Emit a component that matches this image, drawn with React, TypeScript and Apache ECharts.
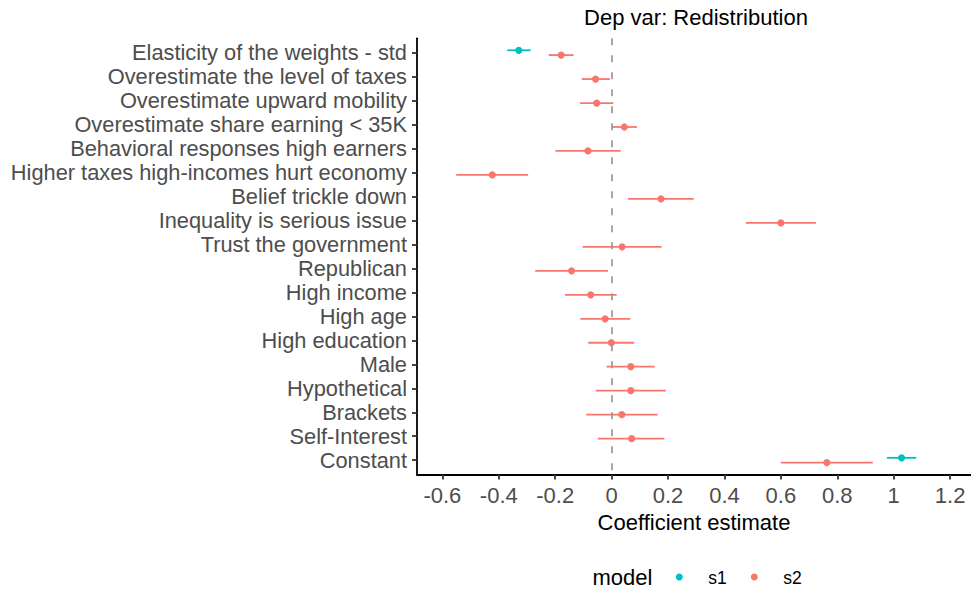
import React, { useEffect, useRef } from "react";
import * as echarts from "echarts";

const categories = [
  "Elasticity of the weights - std",
  "Overestimate the level of taxes",
  "Overestimate upward mobility",
  "Overestimate share earning < 35K",
  "Behavioral responses high earners",
  "Higher taxes high-incomes hurt economy",
  "Belief trickle down",
  "Inequality is serious issue",
  "Trust the government",
  "Republican",
  "High income",
  "High age",
  "High education",
  "Male",
  "Hypothetical",
  "Brackets",
  "Self-Interest",
  "Constant",
];

const s1Terms = ["Elasticity of the weights - std", "Constant"];
const s1Est = [-0.329, 1.028];
const s1Low = [-0.37, 0.976];
const s1High = [-0.287, 1.08];

const s2Terms = categories;
const s2Est = [-0.179, -0.057, -0.053, 0.045, -0.084, -0.423, 0.175, 0.6, 0.037, -0.142, -0.074, -0.023, -0.001, 0.068, 0.068, 0.036, 0.071, 0.763];
const s2Low = [-0.223, -0.106, -0.112, 0.0, -0.199, -0.551, 0.058, 0.476, -0.103, -0.271, -0.165, -0.111, -0.083, -0.018, -0.056, -0.09, -0.049, 0.6];
const s2High = [-0.135, -0.006, 0.006, 0.09, 0.032, -0.296, 0.291, 0.724, 0.177, -0.013, 0.018, 0.066, 0.08, 0.152, 0.192, 0.163, 0.187, 0.926];

const xTicks = [-0.6, -0.4, -0.2, 0, 0.2, 0.4, 0.6, 0.8, 1, 1.2];

const models = ["s1", "s2"];
const modelColors = ["#00BFC4", "#F8766D"];

const FONT = "Liberation Sans, Arial, Helvetica, sans-serif";

function buildData(terms: string[], low: number[], high: number[], est: number[]) {
  return terms.map((t, i) => [low[i], high[i], est[i], categories.indexOf(t)]);
}

function makeRender(dodge: number) {
  return (params: any, api: any) => {
    const y = api.value(3) + dodge;
    const a = api.coord([api.value(0), y]);
    const b = api.coord([api.value(1), y]);
    const c = api.coord([api.value(2), y]);
    const color = api.visual("color");
    return {
      type: "group",
      children: [
        {
          type: "line",
          shape: { x1: a[0], y1: a[1], x2: b[0], y2: b[1] },
          style: { stroke: color, lineWidth: 1.8 },
        },
        {
          type: "circle",
          shape: { cx: c[0], cy: c[1], r: 3.6 },
          style: { fill: color },
        },
      ],
    };
  };
}

export default function App() {
  const ref = useRef<HTMLDivElement>(null);
  useEffect(() => {
    if (!ref.current) return;
    const chart = echarts.init(ref.current, null, { renderer: "svg" });
    const idx = categories.map((_, i) => i);
    const legendItems: any[] = [];
    models.forEach((m, i) => {
      const cx = 679.3 + i * 75;
      legendItems.push({
        type: "circle",
        shape: { cx, cy: 577, r: 3.5 },
        style: { fill: modelColors[i] },
      });
      legendItems.push({
        type: "text",
        x: cx + 29,
        y: 578,
        style: {
          text: m,
          fontSize: 17.5,
          fontFamily: FONT,
          fill: "#000",
          textAlign: "left",
          textVerticalAlign: "middle",
        },
      });
    });
    chart.setOption({
      animation: false,
      backgroundColor: "#ffffff",
      textStyle: { fontFamily: FONT },
      grid: { left: 417, right: 0, top: 38.3, bottom: 114.4, containLabel: false },
      xAxis: {
        type: "value",
        min: -0.69,
        max: 1.274,
        name: "Coefficient estimate",
        nameLocation: "middle",
        nameGap: 35,
        nameTextStyle: { color: "#000", fontSize: 22, fontFamily: FONT },
        axisLine: { show: true, onZero: false, lineStyle: { color: "#000", width: 1.8 } },
        axisTick: { show: true, length: 5, customValues: xTicks, lineStyle: { color: "#333", width: 1.8 } },
        axisLabel: {
          customValues: xTicks,
          color: "#4D4D4D",
          fontSize: 22,
          fontFamily: FONT,
          margin: 10,
          formatter: (v: number) => String(+Number(v).toFixed(1)),
        },
        splitLine: { show: false },
      },
      yAxis: {
        type: "value",
        inverse: true,
        min: -0.6,
        max: 17.6,
        axisLine: { show: true, onZero: false, lineStyle: { color: "#000", width: 1.8 } },
        axisTick: { show: true, length: 5, customValues: idx, lineStyle: { color: "#333", width: 1.8 } },
        axisLabel: {
          customValues: idx,
          color: "#4D4D4D",
          fontSize: 21.8,
          fontFamily: FONT,
          margin: 10,
          formatter: (v: number) => categories[Math.round(v)] ?? "",
        },
        splitLine: { show: false },
      },
      graphic: [
        {
          type: "text",
          x: 696,
          y: 17,
          style: {
            text: "Dep var: Redistribution",
            fontSize: 22,
            fontFamily: FONT,
            fill: "#000",
            textAlign: "center",
            textVerticalAlign: "middle",
          },
        },
        {
          type: "text",
          x: 592.5,
          y: 577,
          style: {
            text: "model",
            fontSize: 22,
            fontFamily: FONT,
            fill: "#000",
            textAlign: "left",
            textVerticalAlign: "middle",
          },
        },
        ...legendItems,
      ],
      series: [
        {
          name: models[0],
          type: "custom",
          itemStyle: { color: modelColors[0] },
          renderItem: makeRender(-0.1),
          encode: { x: [0, 1, 2], y: 3 },
          data: buildData(s1Terms, s1Low, s1High, s1Est),
          z: 3,
        },
        {
          name: models[1],
          type: "custom",
          itemStyle: { color: modelColors[1] },
          renderItem: makeRender(0.1),
          encode: { x: [0, 1, 2], y: 3 },
          data: buildData(s2Terms, s2Low, s2High, s2Est),
          z: 3,
          markLine: {
            silent: true,
            symbol: "none",
            label: { show: false },
            lineStyle: { color: "#999999", type: [7, 10], width: 1.7 },
            data: [{ xAxis: 0 }],
            z: 4,
          },
        },
      ],
    });
    return () => chart.dispose();
  }, []);
  return (
    <div
      ref={ref}
      style={{ position: "absolute", left: 0, top: 0, width: 971, height: 589, background: "#fff" }}
    />
  );
}
